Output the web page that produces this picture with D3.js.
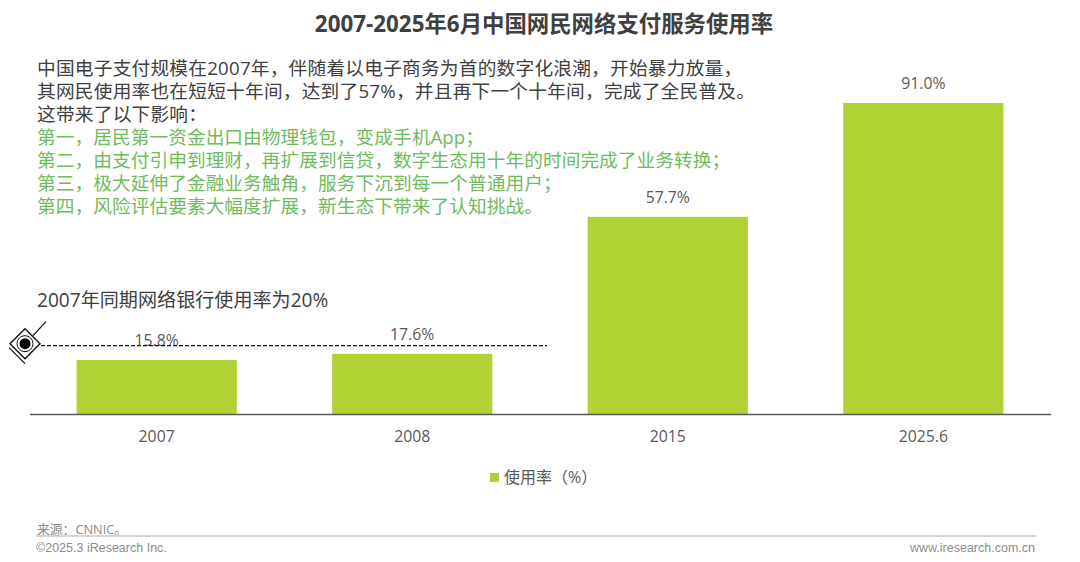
<!DOCTYPE html>
<html><head><meta charset="utf-8">
<script src="https://cdn.jsdelivr.net/npm/d3@7/dist/d3.min.js"></script>
<style>html,body{margin:0;padding:0;background:#fff}svg{display:block}</style></head>
<body><div id="c"></div>
<script>
const categories=["2007","2008","2015","2025.6"];
const values=[15.8,17.6,57.7,91.0];
const valueLabels=["15.8%","17.6%","57.7%","91.0%"];
const seriesName="使用率\uFF08%\uFF09";
const titleText="2007-2025年6月中国网民网络支付服务使用率";
const bodyLines=["中国电子支付规模在2007年\uFF0C伴随着以电子商务为首的数字化浪潮\uFF0C开始暴力放量\uFF0C","其网民使用率也在短短十年间\uFF0C达到了57%\uFF0C并且再下一个十年间\uFF0C完成了全民普及\u3002","这带来了以下影响\uFF1A"];
const greenLines=["第一\uFF0C居民第一资金出口由物理钱包\uFF0C变成手机App\uFF1B","第二\uFF0C由支付引申到理财\uFF0C再扩展到信贷\uFF0C数字生态用十年的时间完成了业务转换\uFF1B","第三\uFF0C极大延伸了金融业务触角\uFF0C服务下沉到每一个普通用户\uFF1B","第四\uFF0C风险评估要素大幅度扩展\uFF0C新生态下带来了认知挑战\u3002"];
const noteText="2007年同期网络银行使用率为20%";
const refValue=20;
const sourceText="来源\uFF1ACNNIC\u3002";
const copyText="©2025.3 iResearch Inc.";
const siteText="www.iresearch.com.cn";

const FONT="'Open Sans','Noto Sans CJK SC',sans-serif";
const svg=d3.select("#c").append("svg").attr("width",1080).attr("height",562);
const x=d3.scaleBand().domain(categories).range([29,1051]).paddingInner(0.373).paddingOuter(0.186);
const y=d3.scaleLinear().domain([0,91]).range([414,103]);
const tx=(s,px,py,size,fill,anchor="start",fam=FONT,w=400)=>svg.append("text").attr("x",px).attr("y",py).attr("font-size",size).attr("fill",fill).attr("text-anchor",anchor).attr("font-family",fam).attr("font-weight",w).text(s);

tx(titleText,544,32,22.4,"#404040","middle",FONT,700);
bodyLines.forEach((s,i)=>tx(s,37,75+i*23,18.7,"#404040").attr("letter-spacing",0.22));
greenLines.forEach((s,i)=>tx(s,37,144+i*23,18.7,"#6fbb5d").attr("letter-spacing",0.05));
tx(noteText,37,307,19.1,"#404040");

svg.selectAll("rect.bar").data(values).join("rect").attr("class","bar")
 .attr("x",(d,i)=>x(categories[i])).attr("width",x.bandwidth())
 .attr("y",d=>y(d)).attr("height",d=>y(0)-y(d)).attr("fill","#b1d234");
svg.selectAll("text.val").data(values).join("text").attr("class","val")
 .attr("x",(d,i)=>x(categories[i])+x.bandwidth()/2).attr("y",d=>y(d)-14)
 .attr("text-anchor","middle").attr("font-size",15.8).attr("fill","#595959").attr("font-family",FONT)
 .text((d,i)=>valueLabels[i]);

const axis=d3.axisBottom(x).tickSize(0).tickPadding(17);
const g=svg.append("g").attr("transform","translate(0,414)").call(axis);
g.select(".domain").attr("stroke","#595959").attr("stroke-width",1.5).attr("d","M30,0.5H1051");
g.selectAll("text").attr("font-size",15.8).attr("fill","#595959").attr("font-family",FONT);

const refY=y(refValue);
svg.append("line").attr("x1",41).attr("x2",547).attr("y1",refY).attr("y2",refY).attr("stroke","#111").attr("stroke-width",1.4).attr("stroke-dasharray","4 2");
const m=svg.append("g").attr("transform",`translate(25,${refY-2})`).attr("fill","none").attr("stroke","#111");
m.append("path").attr("d","M-15,0L0,-15L15,0L0,15Z").attr("stroke-width",1.4).attr("fill","#fff");
m.append("path").attr("d","M-16,4L0,20").attr("stroke-width",1.3);
m.append("path").attr("d","M8,-8L21,-22").attr("stroke-width",1.3);
m.append("circle").attr("r",8).attr("stroke-width",1).attr("fill","#fff");
m.append("circle").attr("r",5.5).attr("fill","#000").attr("stroke","none");

svg.append("rect").attr("x",490).attr("y",473).attr("width",9).attr("height",9).attr("fill","#b1d234");
tx(seriesName,504,483,16,"#595959");

tx(sourceText,37,534,12.8,"#8c8c8c");
svg.append("line").attr("x1",36).attr("x2",1036).attr("y1",536).attr("y2",536).attr("stroke","#c8c8c8").attr("stroke-width",1.3);
tx(copyText,36,552,12.5,"#8c8c8c","start","'Liberation Sans',sans-serif");
tx(siteText,1035,552,12.5,"#8c8c8c","end","'Liberation Sans',sans-serif");
</script></body></html>
